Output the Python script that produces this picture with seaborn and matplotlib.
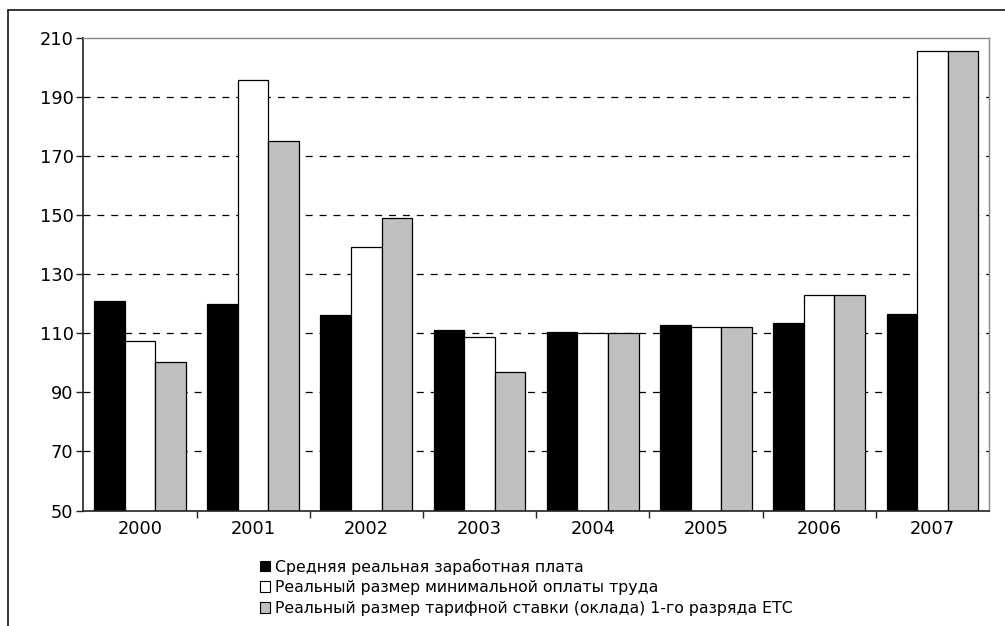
import matplotlib
matplotlib.use("Agg")
import matplotlib.pyplot as plt
import seaborn as sns
import pandas as pd
from matplotlib.lines import Line2D

years = ["2000", "2001", "2002", "2003", "2004", "2005", "2006", "2007"]
series_names = [
    "Средняя реальная заработная плата",
    "Реальный размер минимальной оплаты труда",
    "Реальный размер тарифной ставки (оклада) 1-го разряда ЕТС",
]
avg_wage = [121.0, 120.0, 116.3, 111.0, 110.5, 112.7, 113.3, 116.4]
min_wage = [107.3, 195.8, 139.2, 108.7, 110.2, 112.1, 122.9, 205.6]
tariff_rate = [100.2, 175.0, 149.1, 96.8, 110.2, 112.1, 122.9, 205.6]
y_ticks = [50, 70, 90, 110, 130, 150, 170, 190, 210]

rows = []
for name, vals in zip(series_names, [avg_wage, min_wage, tariff_rate]):
    for yr, v in zip(years, vals):
        rows.append({"year": yr, "series": name, "value": v})
df = pd.DataFrame(rows)

sns.set_style("white")
plt.rcParams["font.family"] = ["DejaVu Sans"]
plt.rcParams["lines.scale_dashes"] = False
plt.rcParams["text.color"] = "black"
plt.rcParams["xtick.color"] = "black"
plt.rcParams["ytick.color"] = "black"

fig = plt.figure(figsize=(10.05, 6.26), dpi=100)
ax = fig.add_axes([0.0829, 0.1845, 0.9012, 0.7553])

sns.barplot(
    data=df, x="year", y="value", hue="series", order=years,
    hue_order=series_names,
    palette=["#000000", "#ffffff", "#c0c0c0"],
    edgecolor="black", linewidth=0.9, width=0.81, gap=0,
    errorbar=None, ax=ax, legend=True,
)

ax.set_ylim(50, 210)
ax.set_xlim(-0.5, len(years) - 0.5)
ax.set_yticks(y_ticks)
ax.set_xlabel("")
ax.set_ylabel("")

# dashed horizontal gridlines, hidden where they meet the frame
ax.set_axisbelow(True)
ax.grid(axis="y", linestyle=(0, (5, 5)), linewidth=0.9, color="black")
gl = ax.get_ygridlines()
gl[0].set_visible(False)
gl[-1].set_visible(False)

for side in ["left", "bottom"]:
    ax.spines[side].set_color("#222222")
    ax.spines[side].set_linewidth(1.2)
for side in ["top", "right"]:
    ax.spines[side].set_color("#888888")
    ax.spines[side].set_linewidth(1.0)
    ax.spines[side].set_visible(True)

ax.tick_params(axis="y", which="major", direction="out", length=5, width=1,
               color="#222222", labelcolor="black", pad=2, labelsize=12.8,
               left=True)
ax.tick_params(axis="x", which="major", length=0, pad=7, labelsize=12.8,
               labelcolor="black")
ax.set_xticks([i + 0.5 for i in range(len(years) - 1)], minor=True)
ax.tick_params(axis="x", which="minor", direction="out", length=5, width=1,
               color="#222222", bottom=True)

handles, labels = ax.get_legend_handles_labels()
leg = ax.legend(
    handles, labels, loc="upper left", bbox_to_anchor=(0.2587, 0.108),
    bbox_transform=fig.transFigure, frameon=False, fontsize=11.3,
    handlelength=0.66, handleheight=0.66, handletextpad=0.3,
    labelspacing=0.36, borderpad=0, borderaxespad=0,
)
for text in leg.get_texts():
    text.set_color("black")
for h in leg.legend_handles:
    h.set_linewidth(0.8)
    h.set_edgecolor("black")

# outer frame around the figure
fig.add_artist(Line2D([8 / 1005, 8 / 1005], [0, 1 - 10 / 626],
                      transform=fig.transFigure, color="black", linewidth=1.1))
fig.add_artist(Line2D([8 / 1005, 1], [1 - 10 / 626, 1 - 10 / 626],
                      transform=fig.transFigure, color="black", linewidth=1.1))

fig.savefig("out.png", dpi=100)
